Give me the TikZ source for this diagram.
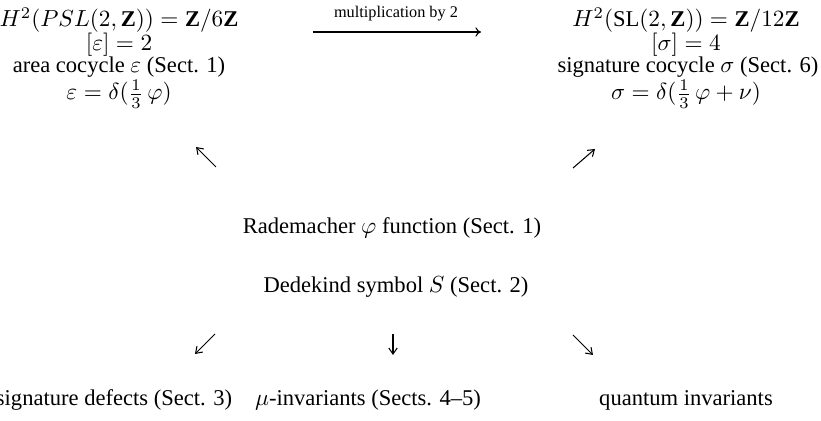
\documentclass[tikz,border=0pt]{standalone}
\usepackage{fontspec}
\setmainfont{Liberation Serif}
\usepackage{amsmath}
\usetikzlibrary{arrows.meta, positioning}

\begin{document}
\begin{tikzpicture}[
          x=0.43pt, y=-0.43pt,
          txt/.style={inner sep=0pt, anchor=base, font=\fontsize{9.7}{12}\selectfont},
          small/.style={inner sep=0pt, anchor=base, font=\fontsize{7}{8}\selectfont},
          arr/.style={-{Straight Barb[length=2.6pt, width=3.6pt]}, line width=0.45pt},
          longarr/.style={-{To[length=2.4pt, width=4pt]}, line width=0.5pt}
        ]
        \useasboundingbox (0,0) rectangle (821,421);
        % left column
        \node[txt] (h2psl)  at (119,27) {$H^2(PSL(2,\mathbf{Z}))=\mathbf{Z}/6\mathbf{Z}$};
        \node[txt] (epscls) at (119,51) {$[\varepsilon]=2$};
        \node[txt] (area)   at (119,73) {area cocycle $\varepsilon$ (Sect. 1)};
        \node[txt] (epsdel) at (119,100) {$\varepsilon=\delta(\tfrac{1}{3}\,\varphi)$};
        % right column
        \node[txt] (h2sl)   at (686,27) {$H^2(\mathrm{SL}(2,\mathbf{Z}))=\mathbf{Z}/12\mathbf{Z}$};
        \node[txt] (sigcls) at (686,51) {$[\sigma]=4$};
        \node[txt] (sigcoc) at (688,73) {signature cocycle $\sigma$ (Sect. 6)};
        \node[txt] (sigdel) at (686,100) {$\sigma=\delta(\tfrac{1}{3}\,\varphi+\nu)$};
        % middle
        \node[txt] (radem)  at (392,234) {Rademacher $\varphi$ function (Sect. 1)};
        \node[txt] (dedek)  at (396,293) {Dedekind symbol $S$ (Sect. 2)};
        % bottom row
        \node[txt] (sigdef) at (114,406) {signature defects (Sect. 3)};
        \node[txt] (muinv)  at (368,406) {$\mu$-invariants (Sects. 4--5)};
        \node[txt] (quant)  at (686,406) {quantum invariants};
        % multiplication arrow
        \coordinate (mulL) at (313,32);
        \coordinate (mulR) at (481,32);
        \node[small] (mullbl) at (396,18) {multiplication by 2};
        \draw[longarr] (mulL) -- (mulR);
        % short arrows
        \coordinate (ulA) at (216,167);  \coordinate (ulB) at (196,147);
        \coordinate (urA) at (573,168);  \coordinate (urB) at (595,149);
        \coordinate (dlA) at (215,334);  \coordinate (dlB) at (195,354);
        \coordinate (dmA) at (393,334);  \coordinate (dmB) at (393,355);
        \coordinate (drA) at (573,335);  \coordinate (drB) at (593,355);
        \draw[arr] (ulA) -- (ulB);
        \draw[arr] (urA) -- (urB);
        \draw[arr] (dlA) -- (dlB);
        \draw[arr] (dmA) -- (dmB);
        \draw[arr] (drA) -- (drB);
      \end{tikzpicture}
\end{document}
